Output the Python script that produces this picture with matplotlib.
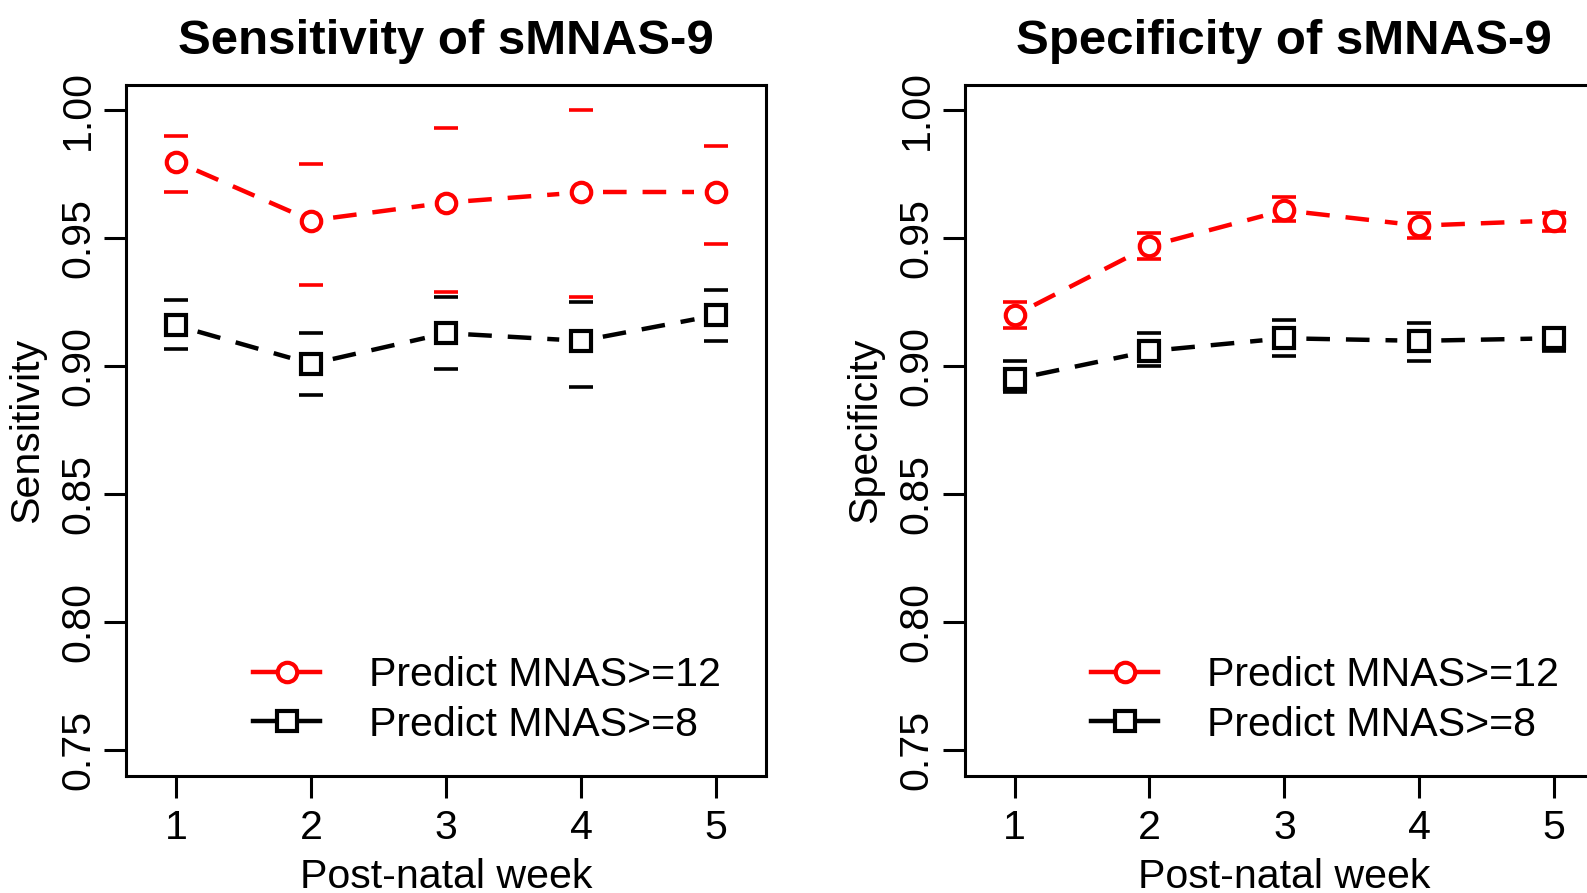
import numpy as np
import matplotlib
matplotlib.use("Agg")
import matplotlib.pyplot as plt
from matplotlib.lines import Line2D

plt.rcParams['font.family'] = ['Liberation Sans', 'DejaVu Sans']
plt.rcParams['lines.scale_dashes'] = False

# -----------------------------
# data
# -----------------------------
weeks = [1, 2, 3, 4, 5]

sens12 = [0.980, 0.957, 0.964, 0.968, 0.968]
sens12_lo = [0.968, 0.932, 0.929, 0.927, 0.948]
sens12_hi = [0.990, 0.979, 0.993, 1.000, 0.986]
sens8 = [0.916, 0.901, 0.913, 0.910, 0.920]
sens8_lo = [0.907, 0.889, 0.899, 0.892, 0.910]
sens8_hi = [0.926, 0.913, 0.927, 0.925, 0.930]

spec12 = [0.920, 0.947, 0.961, 0.955, 0.957]
spec12_lo = [0.915, 0.942, 0.957, 0.950, 0.953]
spec12_hi = [0.925, 0.952, 0.966, 0.960, 0.960]
spec8 = [0.895, 0.906, 0.911, 0.910, 0.911]
spec8_lo = [0.890, 0.900, 0.904, 0.902, 0.906]
spec8_hi = [0.902, 0.913, 0.918, 0.917, 0.915]

yticks = [0.75, 0.80, 0.85, 0.90, 0.95, 1.00]
labels = ["Predict MNAS>=12", "Predict MNAS>=8"]

FS = 29.6
LW = 3.2
MS = 14
MEW = 3.0
DPI = 100


def draw_b(ax, x, y, color, marker):
    """R type='b' style: dashed segments with gaps around points."""
    gap = 22  # pixels
    tr = ax.transData
    inv = tr.inverted()
    for i in range(len(x) - 1):
        p0 = tr.transform((x[i], y[i]))
        p1 = tr.transform((x[i + 1], y[i + 1]))
        d = p1 - p0
        u = d / np.hypot(*d)
        a = inv.transform(p0 + u * gap)
        b = inv.transform(p1 - u * gap)
        ax.plot([a[0], b[0]], [a[1], b[1]], color=color, lw=LW,
                linestyle=(0, (17, 11.5)), solid_capstyle='butt',
                dash_capstyle='butt')
    ax.plot(x, y, linestyle='none', marker=marker, ms=MS, mfc='none',
            mec=color, mew=MEW)


def draw_caps(ax, x, lo, hi, color):
    ax.plot(x, lo, linestyle='none', marker='_', ms=17, mew=2.6, color=color)
    ax.plot(x, hi, linestyle='none', marker='_', ms=17, mew=2.6, color=color)


def panel(ax, title, ylab, y12, lo12, hi12, y8, lo8, hi8):
    ax.set_xlim(0.63, 5.37)
    ax.set_ylim(0.74, 1.01)
    draw_caps(ax, weeks, lo12, hi12, 'red')
    draw_caps(ax, weeks, lo8, hi8, 'black')
    draw_b(ax, weeks, y12, 'red', 'o')
    draw_b(ax, weeks, y8, 'black', 's')

    ax.set_xticks(weeks)
    ax.set_yticks(yticks)
    ax.set_yticklabels(["%.2f" % t for t in yticks], rotation=90, va='center')
    ax.tick_params(axis='both', labelsize=FS, length=16, width=2.2)
    ax.tick_params(axis='x', pad=7.5)
    ax.tick_params(axis='y', pad=5)
    for s in ax.spines.values():
        s.set_linewidth(2.2)

    ax.set_title(title, fontsize=35.5, fontweight='bold', pad=22)
    ax.set_xlabel("Post-natal week", fontsize=FS)
    ax.xaxis.set_label_coords(0.5, -0.146)
    ax.xaxis.label.set_va('center')
    ax.set_ylabel(ylab, fontsize=FS)
    ax.yaxis.set_label_coords(-0.155, 0.5)
    ax.yaxis.label.set_va('center')

    handles = [
        Line2D([], [], color='red', lw=LW, marker='o', ms=MS, mfc='white',
               mec='red', mew=MEW),
        Line2D([], [], color='black', lw=LW, marker='s', ms=MS, mfc='white',
               mec='black', mew=MEW),
    ]
    ax.legend(handles, labels, loc='center left', bbox_to_anchor=(0.198, 0.11),
              frameon=False, fontsize=FS, handlelength=1.63, handletextpad=1.18,
              labelspacing=0.27, borderpad=0, borderaxespad=0)


fig = plt.figure(figsize=(15.87, 8.93), dpi=DPI)
ax1 = fig.add_axes([0.0797, 0.131, 0.403, 0.774])
ax2 = fig.add_axes([0.6078, 0.131, 0.403, 0.774])

panel(ax1, "Sensitivity of sMNAS-9", "Sensitivity",
      sens12, sens12_lo, sens12_hi, sens8, sens8_lo, sens8_hi)
panel(ax2, "Specificity of sMNAS-9", "Specificity",
      spec12, spec12_lo, spec12_hi, spec8, spec8_lo, spec8_hi)

fig.savefig("out.png", dpi=DPI)
